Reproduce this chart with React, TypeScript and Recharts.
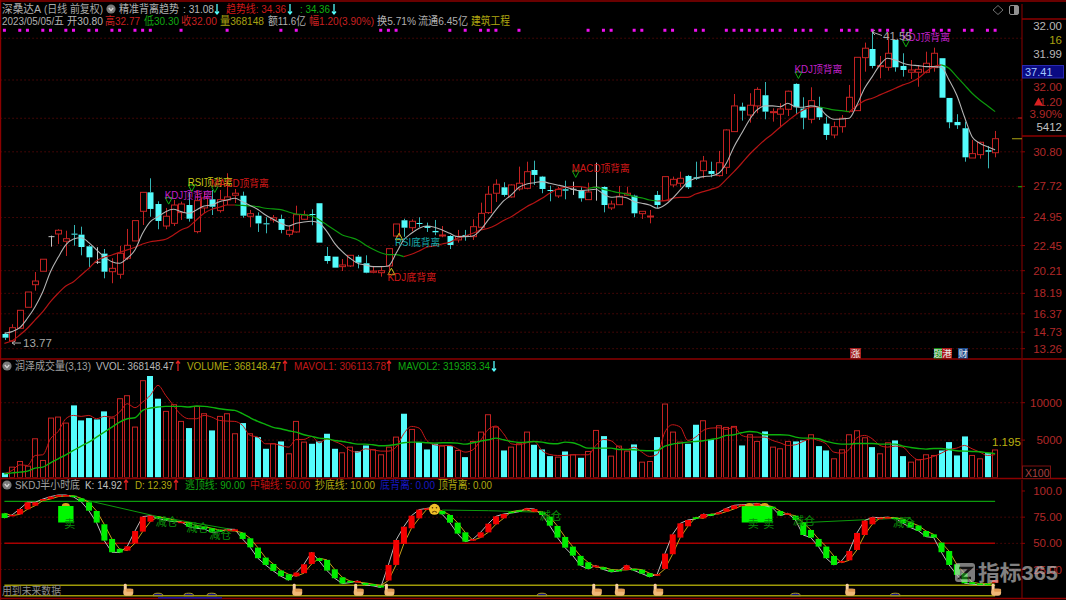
import { Area, Bar, CartesianGrid, ComposedChart, Line, XAxis, YAxis } from 'recharts';

const SLOT_COUNT = 133;

// price panel. read against a grid placed 0.28 too high, PRICE_SHIFT puts them back
const PRICE_SHIFT = -0.28;
const highs = [
  14.97,15.72,16.96,18.59,20.37,21.51,23.61,24.18,24.05,24.56,
  24.41,22.78,22.58,22.42,21.60,22.69,24.21,24.95,27.50,28.72,
  26.67,26.08,26.79,26.64,27.41,27.68,27.50,27.68,27.68,29.17,
  27.77,27.53,25.90,25.69,25.25,25.45,25.48,24.47,26.28,25.84,
  25.96,26.50,22.60,21.74,21.53,21.89,21.89,21.86,20.91,20.85,
  22.45,24.65,25.12,25.07,25.25,24.77,25.01,24.47,23.65,24.12,
  24.12,25.07,26.55,28.04,28.63,28.37,28.19,29.76,30.20,30.29,
  28.93,28.06,27.97,28.51,28.42,27.97,28.33,30.11,28.01,26.73,
  28.04,27.97,27.26,25.78,25.90,27.59,28.87,28.87,29.31,29.02,
  30.20,30.71,30.20,31.16,33.09,36.23,35.46,36.30,36.83,37.30,
  34.96,35.41,36.53,37.19,35.94,36.83,35.99,34.21,33.77,34.36,
  37.04,39.50,40.81,41.87,39.62,41.64,41.05,39.86,39.26,38.73,
  40.00,40.36,39.42,35.88,34.43,33.77,32.14,31.98,31.60,32.94,
];
const lows = [
  14.32,14.16,15.36,17.23,18.71,20.44,22.63,22.87,21.80,22.72,
  21.86,20.82,21.09,19.81,19.37,19.78,21.44,23.14,24.56,25.30,
  24.18,24.18,24.47,25.01,24.86,23.82,25.63,25.45,25.66,26.34,
  26.52,25.21,24.36,23.94,23.82,24.77,23.82,23.52,23.88,25.01,
  24.54,22.99,21.11,20.76,20.46,20.82,20.70,20.26,20.26,19.96,
  20.49,23.49,23.52,24.00,24.36,23.94,23.65,23.47,22.42,22.99,
  23.16,23.23,24.27,25.54,26.61,27.08,26.99,27.62,27.74,28.13,
  27.39,26.67,26.97,26.85,27.24,26.64,26.79,26.73,25.69,25.90,
  26.34,27.15,25.25,25.10,24.71,26.05,26.73,27.92,27.92,27.77,
  28.57,28.72,28.81,28.87,29.11,32.88,33.86,33.68,34.52,33.98,
  33.77,33.27,34.27,34.43,33.09,33.62,33.92,32.14,32.29,32.79,
  34.57,34.75,38.22,38.52,37.63,38.31,38.22,37.78,37.57,36.88,
  38.08,38.22,35.90,33.18,33.12,30.20,30.53,30.47,29.61,30.59,
];
const opens = [
  14.85,14.23,15.36,17.23,19.24,20.44,23.52,23.76,23.11,23.79,
  23.70,22.66,21.24,22.01,20.40,20.17,21.60,23.14,25.78,27.47,
  26.43,24.47,24.71,25.66,26.34,23.97,26.08,26.85,25.84,26.79,
  27.21,27.17,25.34,25.39,24.71,25.01,25.10,23.73,23.94,25.07,
  25.54,26.50,21.80,21.74,20.85,20.91,21.74,21.15,20.35,20.31,
  20.91,23.58,24.98,24.32,24.74,24.47,24.03,23.58,23.58,23.23,
  23.67,23.52,24.36,25.66,27.39,27.92,27.06,27.77,27.83,29.46,
  28.87,27.68,27.15,27.74,27.74,27.65,26.82,27.92,27.95,26.08,
  26.37,27.21,27.17,25.57,25.28,27.24,26.73,28.13,28.28,28.93,
  28.81,29.40,29.37,28.96,29.70,32.88,35.10,34.36,35.17,36.12,
  34.57,34.43,34.87,37.13,34.93,33.98,35.05,33.59,32.58,33.32,
  34.66,34.75,39.47,40.24,38.67,38.61,41.05,38.73,38.17,38.17,
  38.17,38.58,39.42,35.88,33.74,33.18,30.53,30.83,31.22,31.00,
];
const closes = [
  14.52,15.41,16.96,18.59,19.57,21.51,23.52,24.09,23.34,23.70,
  22.60,21.68,21.24,20.40,20.70,22.04,22.75,24.95,27.47,25.99,
  24.92,25.34,26.34,26.43,25.12,26.73,26.97,26.19,26.82,27.06,
  27.39,25.39,25.57,24.70,24.62,25.21,24.12,24.09,25.48,25.45,
  25.45,22.99,21.35,20.76,21.00,21.86,21.20,20.31,20.46,20.49,
  22.45,24.65,24.32,24.89,24.68,24.30,23.91,23.67,22.78,23.56,
  23.52,24.41,25.60,27.30,28.19,27.24,28.13,28.28,29.31,29.02,
  27.77,27.59,27.74,27.62,27.74,26.94,27.50,27.92,26.34,26.43,
  27.12,27.39,25.60,25.78,25.36,26.34,28.87,28.63,28.72,27.92,
  28.69,30.26,29.11,30.11,33.03,35.17,34.75,35.23,36.64,34.66,
  34.66,34.90,36.48,35.05,34.12,35.64,34.16,32.58,33.32,34.07,
  35.94,39.50,40.31,38.73,38.76,39.86,38.61,38.37,38.37,38.43,
  38.97,39.86,35.90,33.71,33.45,30.59,30.92,31.93,31.09,32.25,
];
const whiteLine = [
  14.91,15.06,15.41,16.25,17.28,18.62,20.40,21.68,22.78,23.31,
  23.43,22.99,22.34,21.74,21.29,21.15,21.60,22.34,23.82,24.86,
  25.30,25.75,25.96,25.75,25.60,25.90,26.26,26.34,26.64,26.79,
  26.94,26.64,26.30,25.94,25.45,25.07,24.71,24.47,24.71,24.83,
  24.89,24.71,23.97,22.93,22.18,21.60,21.15,21.00,20.85,20.85,
  20.91,22.04,23.23,23.82,24.27,24.47,24.36,24.12,23.82,23.52,
  23.52,23.58,24.12,25.01,25.90,26.70,27.24,27.92,28.22,28.33,
  28.42,28.28,28.13,27.97,27.74,27.62,27.68,27.74,27.32,27.03,
  27.08,26.99,26.64,26.50,26.34,26.05,26.34,26.94,27.68,28.42,
  28.72,28.87,28.93,29.17,30.06,31.54,32.73,33.92,34.81,35.17,
  35.17,35.10,35.41,35.10,35.05,35.17,35.05,34.36,33.98,34.01,
  34.07,35.25,36.74,37.78,38.82,39.42,39.26,38.97,38.82,38.76,
  38.67,38.67,38.61,37.48,36.14,34.21,32.43,31.84,31.54,31.25,
];
const trendLine = [
  14.02,14.25,14.76,15.36,16.10,16.84,17.73,18.48,19.13,19.51,
  20.11,20.70,21.38,21.68,21.89,22.13,22.34,22.58,22.87,23.07,
  23.16,23.29,23.67,24.12,24.41,25.01,25.60,25.96,26.14,26.34,
  26.34,26.30,26.26,26.19,26.05,25.99,25.93,25.72,25.54,25.48,
  25.36,25.01,24.56,24.12,23.67,23.47,23.23,22.78,22.40,22.09,
  21.92,21.92,21.74,21.95,22.25,22.58,22.69,22.87,23.02,23.38,
  23.58,23.82,24.12,24.27,24.56,24.96,25.30,25.75,26.19,26.55,
  26.94,27.39,27.74,27.92,27.97,27.97,27.83,27.92,27.74,27.59,
  27.44,27.32,27.08,26.97,26.79,26.70,26.73,26.94,27.03,27.03,
  27.32,27.53,27.74,27.97,28.63,29.31,30.06,30.84,31.51,32.14,
  32.67,33.27,33.83,34.36,34.81,35.05,35.10,34.96,34.81,34.75,
  34.66,35.17,35.64,35.85,36.15,36.44,36.74,37.04,37.28,37.63,
  38.22,38.67,38.82,38.52,37.78,37.04,36.30,35.70,35.19,34.66,
];
const trendGreenSpans = [[30, 52], [76, 85], [106, 110], [122, 129]];
const magentaDots = [
  0,2,3,5,6,8,9,11,12,14,15,17,18,19,23,29,36,38,49,50,51,58,60,62,63,64,67,76,78,79,82,83,86,87,
  90,91,94,95,96,97,98,99,100,101,103,104,105,107,109,110,111,113,114,115,117,118,121,122,123,125,126,128,129,
];
const magentaLevel = 41.63;
const priceTicks = [13.26, 14.73, 16.37, 18.19, 20.21, 22.45, 24.95, 27.72, 30.80];
const priceGrid = [13.26, 14.73, 16.37, 18.19, 20.21, 22.45, 24.95, 27.72, 30.80, 33.79, 37.2, 40.92];

// divergence marks on the price panel
const markIndex = [21, 27, 24, 50, 51, 74, 103, 117];
const markPrice = [26.45, 27.49, 27.58, 20.12, 23.24, 28.83, 37.65, 40.47];
const markText = ['KDJ顶背离', 'MACD顶背离', 'RSI顶背离', 'KDJ底背离', 'RSI底背离', 'MACD顶背离', 'KDJ顶背离', 'KDJ顶背离'];
const markColor = ['#c020c8', '#d01818', '#c8c818', '#d01818', '#18a8a8', '#d01818', '#c020c8', '#c020c8'];
const markWidth = [48, 58, 45, 49, 45, 58, 48, 48];

// volume panel
const volumes = [
  625,1384,2143,1518,5178,2277,7946,8080,7276,9642,
  7633,7946,7767,8839,7946,10535,10937,6741,12946,13571,
  10535,8839,9732,7500,6607,9508,8526,6294,8169,8526,
  5848,7276,5848,5401,3839,4509,4821,3169,7500,4732,
  4509,4821,5848,3839,3303,4062,3527,4285,3705,3036,
  4062,5401,8526,6428,4732,3750,4509,4196,4196,3616,
  2723,4821,6071,8392,6741,3616,4062,4509,6071,4375,
  3750,2857,2723,3482,3036,2634,3482,6294,5535,2857,
  4196,3527,4419,2053,2143,5401,9821,6071,4732,4509,
  7053,7589,5089,6919,6696,6830,4285,5714,4821,6160,
  4062,3839,4821,4821,4955,5714,4196,3616,2500,3705,
  5714,6250,5312,4062,3169,4643,4955,2857,2053,2366,
  3036,2946,3616,4732,2946,5491,2946,2500,3259,3681,
];
const mavol1 = [
  491,937,1696,1607,2946,3036,5178,6160,7857,8303,
  8169,8303,7857,8169,8080,8749,9865,9330,10089,10981,
  12321,10981,9642,8392,7857,7857,8303,8080,7633,7544,
  7500,6964,5625,5401,4509,4509,4285,4062,5089,5089,
  5491,4643,5178,4821,4375,3616,3393,3839,3705,3527,
  3527,4062,5848,6830,6607,4955,4375,4285,4285,3839,
  3393,3705,4955,6428,6875,5848,4509,4375,4643,4821,
  3616,3080,2946,2946,3036,3036,3036,4285,5089,4910,
  4062,3705,4062,3393,2812,3080,6071,7053,6741,4955,
  5401,6294,6607,6651,6428,6741,5625,5401,5401,5401,
  4955,4643,4285,4375,4821,5178,4955,4509,3393,3259,
  3750,5312,5625,5178,4285,4062,4196,4062,3036,2366,
  2500,2812,3259,3750,3928,4285,3839,3393,2946,3061,
];
const mavol2 = [
  491,625,714,848,1250,1384,1964,2500,3036,3616,
  4196,4732,5401,6071,6741,7410,7857,7991,8973,9285,
  9419,9508,9508,9508,9419,9553,9508,9374,9196,9062,
  8973,8526,7991,7500,7098,6696,6517,6250,6071,5714,
  5491,5268,5178,4955,4821,4643,4464,4464,4375,4241,
  4285,4419,4643,4732,4732,4643,4598,4643,4643,4598,
  4464,4643,4866,5044,5268,5044,4821,4687,4732,4821,
  4732,4553,4509,4732,4643,4285,3928,3928,3928,3928,
  3750,3750,3705,3616,3571,3616,4196,4464,4598,4732,
  4821,4910,5089,5268,5625,5714,5982,6160,6071,5714,
  5714,5714,5669,5401,5268,5268,5178,4821,4598,4464,
  4464,4553,4553,4553,4464,4464,4464,4196,4018,3884,
  3794,3884,3884,3750,3571,3527,3482,3437,3303,3194,
];
const volumeTicks = [5000, 10000];

// SKDJ panel
const kValues = [
  74.2,77.2,82.8,89.2,89.2,92.3,94.6,96.2,96.2,94.3,
  89.8,81.2,69.8,52.6,41.5,41.2,47.2,61.8,75.5,76.4,
  73.9,72.0,70.7,70.7,65.9,64.4,63.7,60.5,61.2,63.4,
  63.4,54.2,46.2,35.8,29.4,23.7,18.6,14.8,22.1,30.0,
  41.5,33.2,24.0,16.7,11.6,12.5,14.1,10.3,9.4,7.8,
  29.4,53.2,65.9,76.4,82.2,83.4,84.5,77.7,69.8,59.3,
  51.6,54.0,60.5,68.8,75.8,78.0,79.0,80.2,83.4,82.8,
  77.1,66.9,55.5,45.9,38.3,28.8,25.6,28.8,25.0,22.7,
  23.7,29.1,24.0,21.1,18.0,20.5,40.2,58.6,69.1,72.3,
  73.3,78.0,76.4,79.6,83.4,86.3,87.0,87.0,88.2,86.0,
  84.0,76.5,78.7,72.3,58.0,55.5,46.9,35.8,29.4,33.2,
  42.7,59.9,71.7,74.9,74.5,75.0,74.0,69.1,65.0,62.0,
  56.4,55.5,41.5,29.4,19.9,11.9,11.0,10.3,10.5,14.92,
];
const dValues = [
  78.7,76.5,77.7,82.5,86.0,90.8,92.3,94.6,95.2,95.5,
  93.0,89.2,80.9,68.2,54.2,44.7,43.1,50.1,61.2,70.7,
  75.5,73.9,72.3,69.8,69.8,66.9,65.9,64.4,62.8,62.1,
  61.8,60.2,54.8,45.9,36.4,30.3,24.0,20.5,18.6,21.5,
  30.3,35.8,34.2,25.2,17.6,14.1,12.9,12.2,11.0,9.7,
  14.5,29.4,49.4,64.4,73.9,82.5,84.0,80.9,77.1,69.8,
  60.5,53.0,55.5,60.5,68.2,73.9,80.2,81.5,81.8,80.2,
  80.3,75.5,66.6,56.1,46.9,38.0,31.9,27.2,27.2,25.0,
  24.6,24.6,25.6,24.9,21.5,19.2,25.6,39.6,55.5,66.3,
  74.9,73.9,78.0,78.0,80.3,82.8,86.0,86.0,86.0,87.0,
  85.0,80.9,77.7,76.4,69.8,62.8,54.2,46.9,38.0,31.6,
  33.8,43.7,58.0,68.2,74.0,74.8,74.5,73.0,70.0,67.0,
  61.8,58.6,50.7,42.7,30.0,21.5,12.9,11.6,11.5,12.39,
];
const kdjTicks = [25, 50, 75, 100];
const escapeLevel = 90;
const axisLevel = 50;
const bottomLevel = 10;
const sellSpans = [[7, 9], [96, 100]];
const sellRange = [69.8, 85.7];
const sellHats = [8, 97, 99];
const sellTextIndex = [8, 97, 99];
const sellTextValue = 68.2;
const reduceIndex = [21, 25, 28, 71, 104, 117];
const reduceValue = [70.7, 64.4, 58.0, 76.4, 71.3, 69.8];
const handIndex = [16, 38, 46, 50, 77, 80, 85, 110, 129];
const handValue = 5.6;
const waveIndex = [20, 24, 27, 70, 103, 116];
const smileIndex = 56;
const smileValue = 82.5;
const topLineA = [[10, 92.3], [20, 75.5], [30, 62.8]];
const topLineB = [[57, 81.8], [63, 81.2], [69, 79.9]];
const topLineC = [[104, 69.8], [112, 72.5], [118, 74.5]];

const FONT = '"Liberation Sans","Noto Sans CJK SC",sans-serif';
const AXIS_RED = '#8c0000';
const GRID_RED = '#7c0c0c';
const TICK_RED = '#b02828';
const CYAN = '#54fcfc';
const CANDLE_RED = '#c42222';

const inSpan = (i: number, spans: number[][]) => spans.some(([a, b]) => i >= a && i <= b);
const insideSpan = (i: number, spans: number[][]) => spans.some(([a, b]) => i > a && i < b);
const sparse = (i: number, list: number[][]) => {
  const hit = list.find((p) => p[0] === i);
  return hit ? hit[1] : null;
};
const shifted = (v: number) => +(v + PRICE_SHIFT).toFixed(2);

const rows = Array.from({ length: SLOT_COUNT }, (_, i) => {
  const has = i < highs.length;
  const markAt = markIndex.indexOf(i);
  const reduceAt = reduceIndex.indexOf(i);
  return {
    i,
    high: has ? shifted(highs[i]) : null,
    low: has ? shifted(lows[i]) : null,
    open: has ? shifted(opens[i]) : null,
    close: has ? shifted(closes[i]) : null,
    range: has ? [shifted(lows[i]), shifted(highs[i])] : null,
    white: has ? shifted(whiteLine[i]) : null,
    trendRed: has && !insideSpan(i, trendGreenSpans) ? shifted(trendLine[i]) : null,
    trendGreen: has && inSpan(i, trendGreenSpans) ? shifted(trendLine[i]) : null,
    magenta: magentaDots.includes(i) ? magentaLevel : null,
    mark: markAt >= 0 ? markPrice[markAt] : null,
    markText: markAt >= 0 ? markText[markAt] : '',
    markColor: markAt >= 0 ? markColor[markAt] : '',
    markWidth: markAt >= 0 ? markWidth[markAt] : 0,
    volume: has ? volumes[i] : null,
    volumeUp: has && (closes[i] > opens[i] || (closes[i] === opens[i] && closes[i] >= closes[i - 1])),
    mavol1: has ? mavol1[i] : null,
    mavol2: has ? mavol2[i] : null,
    k: has ? kValues[i] : null,
    d: has ? dValues[i] : null,
    stick: has ? [Math.min(kValues[i], dValues[i]), Math.max(kValues[i], dValues[i])] : null,
    stickUp: has && kValues[i] > dValues[i],
    escape: has ? escapeLevel : null,
    axisLine: has ? axisLevel : null,
    bottom: has ? bottomLevel : null,
    zero: has ? 0 : null,
    block: inSpan(i, sellSpans) ? sellRange : null,
    hat: sellHats.includes(i) ? sellRange[1] : null,
    sellText: sellTextIndex.includes(i) ? sellTextValue : null,
    reduce: reduceAt >= 0 ? reduceValue[reduceAt] : null,
    hand: handIndex.includes(i) ? handValue : null,
    wave: waveIndex.includes(i) ? 0 : null,
    smile: i === smileIndex ? smileValue : null,
    topA: sparse(i, topLineA),
    topB: sparse(i, topLineB),
    topC: sparse(i, topLineC),
  };
});

function CandleShape(props: any) {
  const { x, y, width, height, payload } = props;
  if (payload.high == null) return null;
  const k = height / (payload.high - payload.low);
  const yOf = (p: number) => y + (payload.high - p) * k;
  const cx = Math.round(x + width / 2) + 0.5;
  const top = yOf(Math.max(payload.open, payload.close));
  const bottom = yOf(Math.min(payload.open, payload.close));
  const lowY = yOf(payload.low);
  if (payload.open === payload.close) {
    return (
      <g stroke="#c4c4c4" strokeWidth={1}>
        <line x1={cx} x2={cx} y1={y} y2={lowY} />
        <line x1={cx - 3} x2={cx + 3} y1={top} y2={top} />
      </g>
    );
  }
  const up = payload.close > payload.open;
  const wick = up ? CANDLE_RED : '#35b4b4';
  return (
    <g>
      <line x1={cx} x2={cx} y1={y} y2={top} stroke={wick} />
      <line x1={cx} x2={cx} y1={bottom} y2={lowY} stroke={wick} />
      <rect
        x={cx - 3}
        y={top}
        width={6}
        height={Math.max(bottom - top, 1)}
        fill={up ? '#000' : CYAN}
        stroke={up ? CANDLE_RED : CYAN}
        strokeWidth={up ? 1 : 0}
      />
    </g>
  );
}

function VolumeShape(props: any) {
  const { x, y, width, height, payload } = props;
  if (payload.volume == null) return null;
  const cx = Math.round(x + width / 2);
  if (payload.volumeUp) {
    return <rect x={cx - 2.5} y={y} width={5} height={height} fill="none" stroke={CANDLE_RED} />;
  }
  return <rect x={cx - 3} y={y} width={6} height={height} fill={CYAN} />;
}

function StickShape(props: any) {
  const { x, y, width, height, payload } = props;
  if (payload.k == null) return null;
  const h = Math.max(height, 1.5);
  return <rect x={x} y={y} width={width} height={h} fill={payload.stickUp ? '#f40000' : '#00ee00'} />;
}

function RightTick(props: any) {
  const { y, payload, digits, color } = props;
  return (
    <text x={1062} y={y} dy={4} textAnchor="end" fontSize={11.5} fontFamily={FONT} fill={color}>
      {payload.value.toFixed(digits)}
    </text>
  );
}

const dotOf = (render: (p: any) => any) => (p: any) => (
  <g key={p.index}>{p.cy == null ? null : render(p)}</g>
);

const magentaDot = dotOf((p) => <rect x={p.cx - 1.5} y={p.cy - 1.5} width={3} height={3} fill="#f010f0" />);

const divergenceDot = dotOf((p) => {
  const topMark = p.payload.markText.includes('顶');
  const x = p.cx + 3;
  const tri = topMark
    ? `M${x - 3.5} ${p.cy - 3}L${x + 3.5} ${p.cy - 3}L${x} ${p.cy + 3.5}Z`
    : `M${x - 3.5} ${p.cy + 3}L${x + 3.5} ${p.cy + 3}L${x} ${p.cy - 3.5}Z`;
  return (
    <g>
      <path d={tri} fill="none" stroke={topMark ? '#10b010' : '#c8c020'} strokeWidth={1} />
      <text
        x={x - 4}
        y={topMark ? p.cy - 6 : p.cy + 5}
        dominantBaseline="central"
        fontSize={10.5}
        fontFamily={FONT}
        fill={p.payload.markColor}
        textLength={p.payload.markWidth}
        lengthAdjust="spacingAndGlyphs"
      >
        {p.payload.markText}
      </text>
    </g>
  );
});

const hatDot = dotOf((p) => (
  <path d={`M${p.cx - 4} ${p.cy}A4 3 0 0 1 ${p.cx + 4} ${p.cy}Z`} fill="#e0a020" />
));
const sellTextDot = dotOf((p) => (
  <text x={p.cx + 4} y={p.cy} dominantBaseline="central" textAnchor="middle" fontSize={11} fontFamily={FONT} fill="#0a8c0a">卖</text>
));
const reduceDot = dotOf((p) => (
  <text x={p.cx + 1} y={p.cy} dominantBaseline="central" textAnchor="middle" fontSize={11} fontFamily={FONT} fill="#0a8c0a">减仓</text>
));
const handDot = dotOf((p) => (
  <g transform={`translate(${p.cx - 2} ${p.cy - 6})`}>
    <rect x={-1.5} y={0} width={3} height={7} rx={1.4} fill="#f6cfa0" />
    <rect x={-2} y={5} width={10} height={7} rx={3} fill="#f0b878" />
    <rect x={1} y={5} width={7} height={3} rx={1} fill="#e09850" />
  </g>
));
const waveDot = dotOf((p) => (
  <g>
    <path d={`M${p.cx - 5} ${p.cy}A5 2.5 0 0 1 ${p.cx + 5} ${p.cy}Z`} fill="#101090" stroke="#b0a020" strokeWidth={1} />
  </g>
));
const smileDot = dotOf((p) => (
  <g>
    <circle cx={p.cx} cy={p.cy} r={5.5} fill="#f0c028" />
    <circle cx={p.cx - 2} cy={p.cy - 1.5} r={0.8} fill="#5a3000" />
    <circle cx={p.cx + 2} cy={p.cy - 1.5} r={0.8} fill="#5a3000" />
    <path d={`M${p.cx - 2.5} ${p.cy + 3}Q${p.cx} ${p.cy + 1} ${p.cx + 2.5} ${p.cy + 3}`} fill="none" stroke="#5a3000" />
  </g>
));

const plotMargin = (top: number, bottom: number) => ({ top, bottom: 600 - bottom, left: 0.56, right: 0 });

function Panel({ children, top, bottom }: { children: any; top: number; bottom: number }) {
  return (
    <div style={{ position: 'absolute', left: 0, top: 0 }}>
      <ComposedChart width={1066} height={600} data={rows} margin={plotMargin(top, bottom)} barGap={0}>
        {children}
      </ComposedChart>
    </div>
  );
}

const lineProps = { dot: false, activeDot: false, isAnimationActive: false, legendType: 'none', type: 'monotone' } as any;
const markerProps = { stroke: 'none', activeDot: false, isAnimationActive: false, legendType: 'none' } as any;

// header texts: x, width, text, colour
const headerRow1: [number, number, string, string][] = [
  [2, 39, '深桑达A', '#b0b0b0'],
  [44, 59, '(日线 前复权)', '#a8a8a8'],
  [119, 60, '精准背离趋势', '#b0b0b0'],
  [183, 31, ': 31.08', '#b8b8b8'],
  [226, 60, '趋势线: 34.36', '#d01818'],
  [300, 30, ': 34.36', '#10b010'],
];
const headerRow2: [number, number, string, string][] = [
  [2, 62, '2023/05/05/五', '#b0b0b0'],
  [67, 36, '开30.80', '#b8b8b8'],
  [105, 35, '高32.77', '#c82020'],
  [144, 35, '低30.30', '#10a810'],
  [181, 36, '收32.00', '#c82020'],
  [220, 44, '量368148', '#a8a010'],
  [268, 38, '额11.6亿', '#b0b0b0'],
  [309, 65, '幅1.20(3.90%)', '#c82020'],
  [377, 39, '换5.71%', '#b0b0b0'],
  [418, 50, '流通6.45亿', '#b0b0b0'],
  [471, 39, '建筑工程', '#b0a810'],
];
const headerVolume: [number, number, string, string][] = [
  [15, 76, '润泽成交量(3,13)', '#a0a0a0'],
  [96, 78, 'VVOL: 368148.47', '#b8b8b8'],
  [187, 94, 'VOLUME: 368148.47', '#b0a810'],
  [294, 92, 'MAVOL1: 306113.78', '#c01818'],
  [398, 92, 'MAVOL2: 319383.34', '#10a810'],
];
const headerKdj: [number, number, string, string][] = [
  [15, 65, 'SKDJ半小时底', '#a0a0a0'],
  [85, 37, 'K: 14.92', '#c0c0c0'],
  [135, 37, 'D: 12.39', '#b0a810'],
  [185, 60, '逃顶线: 90.00', '#10a810'],
  [250, 60, '中轴线: 50.00', '#c01010'],
  [315, 60, '抄底线: 10.00', '#b0a810'],
  [380, 55, '底背离: 0.00', '#1818c0'],
  [438, 54, '顶背离: 0.00', '#b0a810'],
];
// x, y, direction, colour
const arrows: [number, number, number, string][] = [
  [217, 9, 1, CYAN], [290, 9, 1, CYAN], [334, 9, 1, CYAN],
  [178, 366, -1, '#e02020'], [285, 366, -1, '#e02020'], [389, 366, -1, '#e02020'], [494, 366, 1, CYAN],
  [126, 485, -1, '#e02020'], [176, 485, -1, '#e02020'],
];
const quoteTexts: [number, number, string, string][] = [
  [1062, 26, '32.00', '#b8b8b8'],
  [1062, 40, '16', '#a8a010'],
  [1062, 54, '31.99', '#b8b8b8'],
  [1062, 87, '32.00', TICK_RED],
  [1062, 101.5, '1.20', TICK_RED],
  [1062, 114, '3.90%', TICK_RED],
  [1062, 127, '5412', '#c0c0c0'],
];

function HeaderRow({ items, y }: { items: [number, number, string, string][]; y: number }) {
  return (
    <>
      {items.map(([x, w, text, color]) => (
        <text
          key={text + x}
          x={x}
          y={y}
          dominantBaseline="central"
          fontSize={11.5}
          fontFamily={FONT}
          fill={color}
          textLength={w}
          lengthAdjust="spacingAndGlyphs"
        >
          {text}
        </text>
      ))}
    </>
  );
}

function Badge({ x, y, w, bg, text }: { x: number; y: number; w: number; bg: string; text: string }) {
  return (
    <g>
      <rect x={x} y={y} width={w} height={10.5} fill={bg} />
      <text x={x + w / 2} y={y + 5.5} textAnchor="middle" dominantBaseline="central" fontSize={9.5} fontFamily={FONT} fill="#e8e8e8">
        {text}
      </text>
    </g>
  );
}

function CircleIcon({ cx, cy }: { cx: number; cy: number }) {
  return (
    <g>
      <circle cx={cx} cy={cy} r={4.6} fill="#7a7a7a" />
      <path d={`M${cx - 2.2} ${cy - 1}L${cx} ${cy + 1.6}L${cx + 2.2} ${cy - 1}`} fill="none" stroke="#d8d8d8" strokeWidth={1.2} />
    </g>
  );
}

function Overlay() {
  return (
    <svg width={1066} height={600} style={{ position: 'absolute', left: 0, top: 0 }}>
      {/* panel frame */}
      <g stroke={AXIS_RED} strokeWidth={1.4}>
        <line x1={0} x2={1066} y1={1} y2={1} />
        <line x1={0} x2={1066} y1={359} y2={359} />
        <line x1={0} x2={1066} y1={478.5} y2={478.5} />
        <line x1={0} x2={1066} y1={598.5} y2={598.5} />
        <line x1={0.5} x2={0.5} y1={0} y2={600} />
        <line x1={1022} x2={1066} y1={19} y2={19} />
        <line x1={1022} x2={1066} y1={136} y2={136} />
      </g>

      <HeaderRow items={headerRow1} y={9} />
      <HeaderRow items={headerRow2} y={21} />
      <HeaderRow items={headerVolume} y={366} />
      <HeaderRow items={headerKdj} y={485} />
      <CircleIcon cx={111} cy={9} />
      <CircleIcon cx={7} cy={366} />
      <CircleIcon cx={7} cy={485} />
      {arrows.map(([x, y, dir, c]) => (
        <path
          key={`${x}-${y}`}
          d={`M${x} ${y - 5 * dir}L${x} ${y + 5 * dir}M${x - 2} ${y + 2.5 * dir}L${x} ${y + 5 * dir}L${x + 2} ${y + 2.5 * dir}`}
          fill="none"
          stroke={c}
          strokeWidth={1.3}
        />
      ))}

      {/* top right quote block */}
      <path d="M998 5.5L1003 10L998 14.5L993 10Z" fill="none" stroke="#707070" />
      <rect x={1009.5} y={5.5} width={9} height={9} rx={1.5} fill="none" stroke="#909090" />
      <rect x={1014} y={6} width={4} height={8} fill="#909090" />
      {quoteTexts.map(([x, y, t, c]) => (
        <text key={t + y} x={x} y={y} dy={4} textAnchor="end" fontSize={11.5} fontFamily={FONT} fill={c}>
          {t}
        </text>
      ))}
      <path d="M1034 105.5L1038.5 97.5L1043 105.5Z" fill="#d82020" />
      <rect x={1022.5} y={65.5} width={41} height={12.5} fill="#0a0a82" stroke="#2a2ab0" />
      <text x={1025} y={72} dominantBaseline="central" fontSize={11} fontFamily={FONT} fill="#a0c4ff">37.41</text>
      <line x1={1012} x2={1022} y1={138.7} y2={138.7} stroke="#908a10" strokeWidth={1.2} />
      <line x1={1018} x2={1022} y1={186.7} y2={186.7} stroke="#10a010" strokeWidth={1.2} />
      <line x1={1018} x2={1022} y1={118} y2={118} stroke="#b01818" strokeWidth={1.2} />

      {/* extreme labels */}
      <g stroke="#a8a8a8" fill="none">
        <path d="M872 32L882 35.5M872 32L875 30M872 32L875 35" />
        <path d="M12 343L21 343M12 343L15 341M12 343L15 345" />
      </g>
      <text x={883} y={36} dominantBaseline="central" fontSize={11.5} fontFamily={FONT} fill="#a8a8a8">41.55</text>
      <text x={23} y={343} dominantBaseline="central" fontSize={11.5} fontFamily={FONT} fill="#a8a8a8">13.77</text>

      {/* event badges */}
      <Badge x={850} y={348} w={11} bg="#a82020" text="涨" />
      <Badge x={934} y={348} w={8} bg="#148c14" text="题" />
      <Badge x={942} y={348} w={10} bg="#b01818" text="港" />
      <Badge x={958} y={348} w={10} bg="#1c4c90" text="财" />

      {/* volume extras */}
      <text x={992} y={441.5} dominantBaseline="central" fontSize={11.5} fontFamily={FONT} fill="#b8b010">1.195</text>
      <rect x={1022.5} y={466} width={28} height={12.5} fill="#000" stroke="#7c1010" />
      <text x={1025} y={472.5} dominantBaseline="central" fontSize={10.5} fontFamily={FONT} fill="#a84040">X100</text>

      {/* kdj extras */}
      <text x={2} y={591} dominantBaseline="central" fontSize={11} fontFamily={FONT} fill="#8c8c8c" textLength={59} lengthAdjust="spacingAndGlyphs">
        用到未来数据
      </text>
      <rect x={158} y={597} width={64} height={1.6} fill="#1010a0" />

      {/* watermark */}
      <g opacity={0.62}>
        <rect x={955} y={563} width={20} height={19} rx={3} fill="#c8c8c8" />
        <path d="M959 568L971 568L960 578L971 578" fill="none" stroke="#202020" strokeWidth={2.4} />
        <text x={978} y={572} dominantBaseline="central" fontSize={21} fontWeight={700} fontFamily={FONT} fill="#d0d0d0" textLength={80} lengthAdjust="spacingAndGlyphs">
          指标365
        </text>
      </g>
    </svg>
  );
}

export default function App() {
  return (
    <div style={{ position: 'absolute', left: 0, top: 0, width: 1066, height: 600, background: '#000', overflow: 'hidden' }}>
      {/* price */}
      <Panel top={4} bottom={358}>
        <CartesianGrid horizontal vertical={false} horizontalValues={priceGrid} stroke={GRID_RED} strokeDasharray="1 3" />
        <XAxis dataKey="i" hide />
        <YAxis
          orientation="right"
          width={44}
          domain={[12.43, 43.97]}
          allowDataOverflow
          ticks={priceTicks}
          interval={0}
          stroke={AXIS_RED}
          tickSize={3}
          tick={<RightTick digits={2} color={TICK_RED} />}
        />
        <Bar dataKey="range" barSize={6} shape={<CandleShape />} isAnimationActive={false} />
        <Line dataKey="trendRed" stroke="#b41414" strokeWidth={1.2} {...lineProps} />
        <Line dataKey="trendGreen" stroke="#0c9a0c" strokeWidth={1.2} {...lineProps} />
        <Line dataKey="white" stroke="#b4b4b4" strokeWidth={1.1} {...lineProps} />
        <Line dataKey="magenta" {...markerProps} dot={magentaDot} />
        <Line dataKey="mark" {...markerProps} dot={divergenceDot} />
      </Panel>

      {/* volume */}
      <Panel top={360} bottom={477.5}>
        <CartesianGrid horizontal vertical={false} horizontalValues={volumeTicks} stroke={GRID_RED} strokeDasharray="1 3" />
        <XAxis dataKey="i" hide />
        <YAxis
          orientation="right"
          width={44}
          domain={[0, 15710]}
          allowDataOverflow
          ticks={volumeTicks}
          interval={0}
          stroke={AXIS_RED}
          tickSize={3}
          tick={<RightTick digits={0} color={TICK_RED} />}
        />
        <Bar dataKey="volume" barSize={6} shape={<VolumeShape />} isAnimationActive={false} />
        <Line dataKey="mavol1" stroke="#c81818" strokeWidth={1} {...lineProps} />
        <Line dataKey="mavol2" stroke="#0cb00c" strokeWidth={1.4} {...lineProps} />
      </Panel>

      {/* skdj */}
      <Panel top={480} bottom={599}>
        <CartesianGrid horizontal vertical={false} horizontalValues={[25, 50, 75]} stroke={GRID_RED} strokeDasharray="1 3" />
        <XAxis dataKey="i" hide />
        <YAxis
          orientation="right"
          width={44}
          domain={[-3.15, 110.5]}
          allowDataOverflow
          ticks={kdjTicks}
          interval={0}
          stroke={AXIS_RED}
          tickSize={3}
          tick={(p: any) => <RightTick {...p} digits={p.payload.value === 100 ? 1 : 2} color={TICK_RED} />}
        />
        <Line dataKey="escape" stroke="#0c9a0c" strokeWidth={1.3} {...lineProps} />
        <Line dataKey="axisLine" stroke="#a80000" strokeWidth={1.5} {...lineProps} />
        <Line dataKey="bottom" stroke="#a09a08" strokeWidth={1.5} {...lineProps} />
        <Line dataKey="zero" stroke="#a09a08" strokeWidth={1.5} {...lineProps} />
        <Line dataKey="topA" stroke="#0c9a0c" strokeWidth={1} connectNulls {...lineProps} type="linear" />
        <Line dataKey="topB" stroke="#0c9a0c" strokeWidth={1} connectNulls {...lineProps} type="linear" />
        <Line dataKey="topC" stroke="#0c9a0c" strokeWidth={1} connectNulls {...lineProps} type="linear" />
        <Line dataKey="k" stroke="#bcbcbc" strokeWidth={1} {...lineProps} type="linear" />
        <Line dataKey="d" stroke="#c8a018" strokeWidth={1} {...lineProps} type="linear" />
        <Bar dataKey="stick" barSize={6} shape={<StickShape />} isAnimationActive={false} zIndex={500} />
        <Area dataKey="block" stroke="none" fill="#00f800" fillOpacity={1} type="linear" dot={false} activeDot={false} isAnimationActive={false} legendType="none" />
        <Line dataKey="hat" {...markerProps} dot={hatDot} />
        <Line dataKey="sellText" {...markerProps} dot={sellTextDot} />
        <Line dataKey="reduce" {...markerProps} dot={reduceDot} />
        <Line dataKey="hand" {...markerProps} dot={handDot} />
        <Line dataKey="wave" {...markerProps} dot={waveDot} />
        <Line dataKey="smile" {...markerProps} dot={smileDot} />
      </Panel>

      <Overlay />
    </div>
  );
}
